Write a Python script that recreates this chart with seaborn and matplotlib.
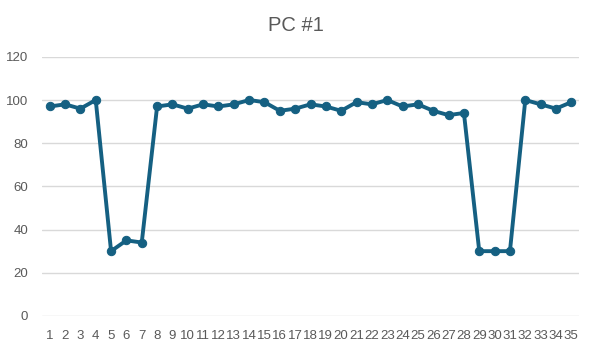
import matplotlib
matplotlib.use('Agg')
import matplotlib.pyplot as plt
import seaborn as sns
import pandas as pd

# --- data ---
samples = list(range(1, 36))
values = [97, 98, 96, 100, 30, 35, 34, 97, 98, 96,
          98, 97, 98, 100, 99, 95, 96, 98, 97, 95,
          99, 98, 100, 97, 98, 95, 93, 94, 30, 30,
          30, 100, 98, 96, 99]
y_ticks = [0, 20, 40, 60, 80, 100, 120]

df = pd.DataFrame({'sample': samples, 'value': values})

sns.set_style('white')
plt.rcParams['font.family'] = ['Liberation Sans', 'DejaVu Sans']

fig = plt.figure(figsize=(5.92, 3.53), dpi=100)
ax = fig.add_axes([0.071, 0.105, 0.907, 0.734])

line_color = '#156082'
sns.lineplot(data=df, x='sample', y='value', ax=ax, color=line_color,
             linewidth=2.8, marker='o', markersize=6,
             markeredgecolor=line_color, markerfacecolor=line_color)

ax.set_xlim(0.5, 35.5)
ax.set_ylim(0, 120)
ax.set_xticks(samples)
ax.set_xticklabels([str(s) for s in samples])
ax.set_yticks(y_ticks)
ax.tick_params(axis='both', labelsize=9.5, colors='#595959', length=0)
ax.tick_params(axis='x', pad=10)
ax.tick_params(axis='y', pad=10)
ax.grid(axis='y', color='#d9d9d9', linewidth=1)
ax.set_axisbelow(True)
for s in ax.spines.values():
    s.set_visible(False)
ax.set_xlabel('')
ax.set_ylabel('')

fig.suptitle('PC #1', y=0.955, fontsize=14.5, color='#595959')

fig.savefig('out.png', dpi=100)
